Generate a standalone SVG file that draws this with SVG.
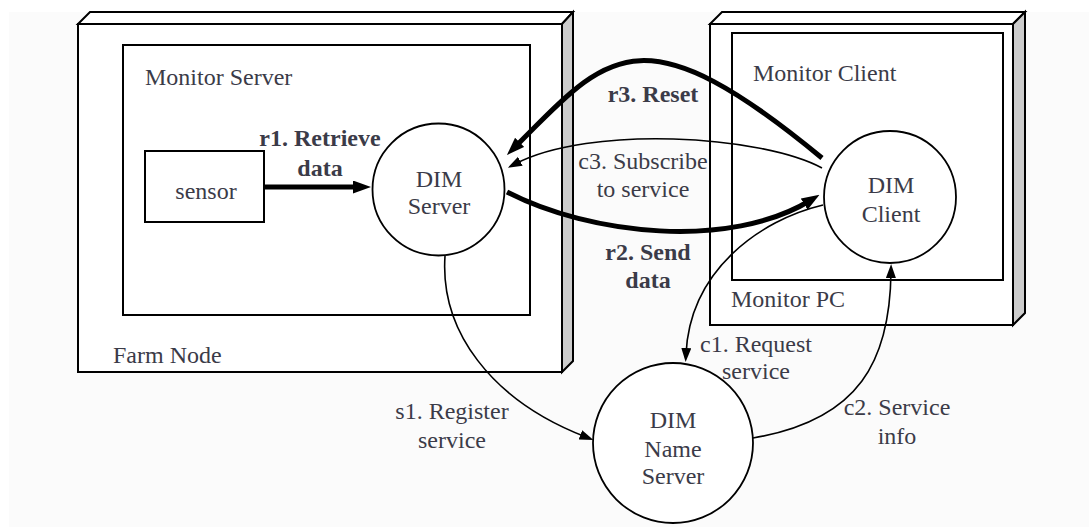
<svg xmlns="http://www.w3.org/2000/svg" width="1089" height="527" viewBox="0 0 1089 527">
<style>
  text { font-family: "Liberation Serif", "Times New Roman", serif; font-size: 24px; fill: #3b3b48; }
  .b { font-weight: bold; }
  .m { text-anchor: middle; }
  .box { fill: #ffffff; stroke: #000; stroke-width: 2; }
  .side { fill: #cccccc; stroke: #000; stroke-width: 2; stroke-linejoin: miter; }
  .node { fill: #ffffff; stroke: #000; stroke-width: 1.8; }
  .thick { fill: none; stroke: #000; stroke-width: 5; marker-end: url(#ah); }
  .thin { fill: none; stroke: #000; stroke-width: 1.6; marker-end: url(#at); }
</style>
<defs>
  <marker id="ah" markerUnits="userSpaceOnUse" markerWidth="18" markerHeight="14" refX="8" refY="6.5" orient="auto">
    <path d="M0,0 L18,6.5 L0,13 z" fill="#000"/>
  </marker>
  <marker id="at" markerUnits="userSpaceOnUse" markerWidth="14" markerHeight="11" refX="6" refY="5" orient="auto">
    <path d="M0,0 L14,5 L0,10 z" fill="#000"/>
  </marker>
</defs>
<rect x="9" y="12" width="1080" height="515" fill="#fbfbfb"/>

<g id="farm-node">
  <polygon class="box" points="78,24 90,12 573,12 562,24"/>
  <polygon class="side" points="562,24 573,12 573,361 562,372"/>
  <rect class="box" x="78" y="24" width="484" height="348"/>
  <text x="113" y="363">Farm Node</text>
</g>
<g id="monitor-server">
  <rect class="box" x="123" y="45" width="407" height="270"/>
  <text x="145" y="85">Monitor Server</text>
</g>
<g id="sensor">
  <rect class="box" x="145" y="151" width="119" height="71"/>
  <text class="m" x="206" y="199">sensor</text>
</g>
<g id="dim-server">
  <circle class="node" cx="438.5" cy="189.5" r="66"/>
  <text class="m" x="439" y="187">DIM</text>
  <text class="m" x="439" y="214">Server</text>
</g>

<g id="monitor-pc">
  <polygon class="box" points="710,24 722,12 1025,12 1013,24"/>
  <polygon class="side" points="1013,24 1025,12 1025,313 1013,325"/>
  <rect class="box" x="710" y="24" width="303" height="301"/>
  <text x="731" y="307">Monitor PC</text>
</g>
<g id="monitor-client">
  <rect class="box" x="732" y="33" width="271" height="247"/>
  <text x="753" y="81">Monitor Client</text>
</g>
<g id="dim-client">
  <circle class="node" cx="890" cy="197" r="66"/>
  <text class="m" x="891" y="193">DIM</text>
  <text class="m" x="891" y="222">Client</text>
</g>

<g id="dim-name-server">
  <circle class="node" cx="673" cy="443" r="80"/>
  <text class="m" x="673" y="428">DIM</text>
  <text class="m" x="673" y="457">Name</text>
  <text class="m" x="673" y="484">Server</text>
</g>

<g id="connectors">
  <line class="thick" x1="264" y1="187" x2="361" y2="187"/>
  <path class="thick" d="M822,158 C638,6 607,55 514,148"/>
  <path class="thick" d="M507,192 C590,235 730,250 811,200"/>
  <path class="thin" d="M822,168 C760,135 590,125 515,164"/>
  <path class="thin" d="M823,205 C760,220 690,270 686,354"/>
  <path class="thin" d="M753,438 C860,420 890,360 891,272"/>
  <path class="thin" d="M445,256 C440,330 490,400 586,437"/>
</g>

<g id="labels">
  <text class="b m" x="320" y="146">r1. Retrieve</text>
  <text class="b m" x="320" y="176">data</text>
  <text class="b m" x="653" y="102">r3. Reset</text>
  <text class="m" x="643" y="169">c3. Subscribe</text>
  <text class="m" x="643" y="197">to service</text>
  <text class="b m" x="648" y="260">r2. Send</text>
  <text class="b m" x="648" y="288">data</text>
  <text class="m" x="452" y="419">s1. Register</text>
  <text class="m" x="452" y="448">service</text>
  <text class="m" x="756" y="352">c1. Request</text>
  <text class="m" x="756" y="379">service</text>
  <text class="m" x="897" y="415">c2. Service</text>
  <text class="m" x="897" y="444">info</text>
</g>
</svg>
